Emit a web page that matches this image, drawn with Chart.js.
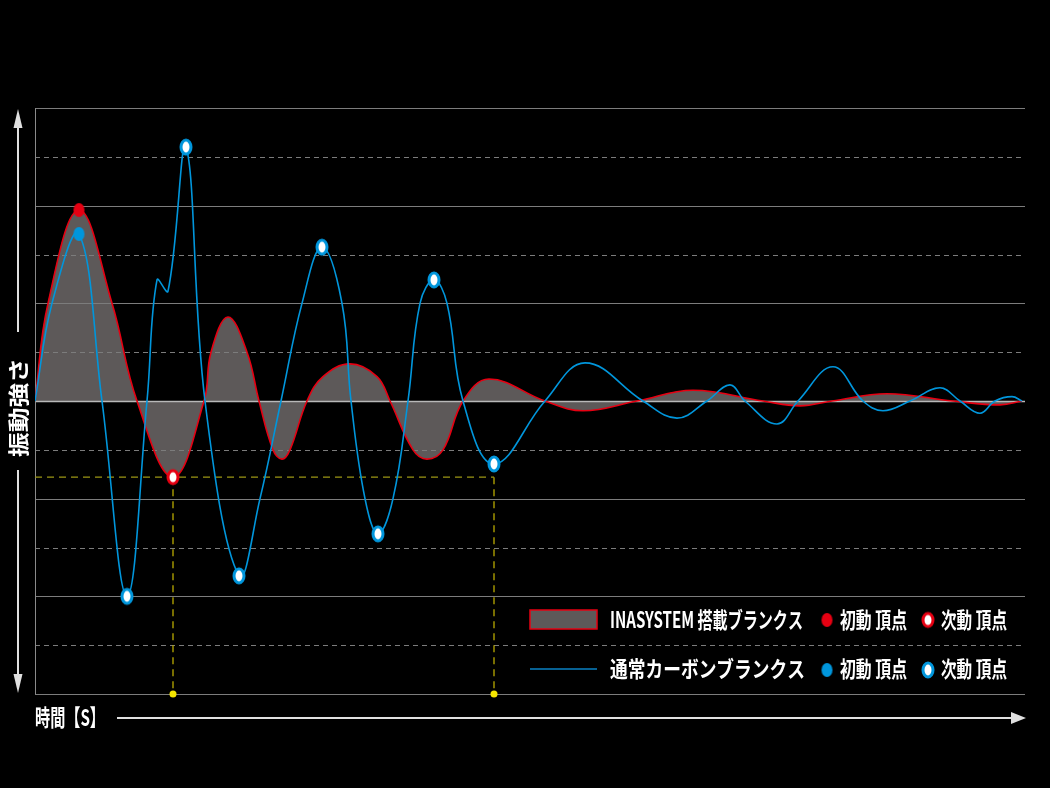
<!DOCTYPE html>
<html><head><meta charset="utf-8">
<script src="https://cdn.jsdelivr.net/npm/chart.js@4.4.1/dist/chart.umd.min.js"></script>
<style>html,body{margin:0;padding:0;background:#000;overflow:hidden}#wrap{width:1050px;height:788px;position:relative}</style>
</head><body><div id="wrap"><canvas id="c"></canvas></div>
<script>
// ---- data (time in s, amplitude in grid units) ----
const redX = [0, 0.13, 0.44, 0.77, 1.02, 1.38, 1.69, 1.76, 1.93, 2.12, 2.24, 2.38, 2.47, 2.55, 2.72, 2.88, 3.15, 3.42, 3.55, 3.78, 3.92, 4.08, 4.28, 4.54, 5.10, 5.48, 6.02, 6.58, 7.28, 7.65, 7.97, 8.52, 9.18, 9.65, 9.87];
const redY = [0, 2.0, 3.91, 2.0, 0, -1.56, 0, 1.0, 1.72, 1.0, 0, -1.0, -1.19, -1.0, 0, 0.5, 0.76, 0.5, 0, -1.0, -1.19, -1.0, 0, 0.45, 0, -0.20, 0, 0.22, 0, -0.10, 0, 0.15, 0, -0.08, 0];
const blueX = [0, 0.17, 0.44, 0.67, 0.92, 1.12, 1.22, 1.33, 1.51, 1.70, 2.04, 2.25, 2.46, 2.67, 2.87, 3.07, 3.16, 3.30, 3.43, 3.58, 3.73, 3.85, 3.99, 4.12, 4.28, 4.59, 5.10, 5.50, 6.08, 6.42, 6.72, 6.95, 7.10, 7.42, 7.63, 7.98, 8.28, 8.48, 8.75, 9.05, 9.25, 9.45, 9.60, 9.77, 9.87];
const blueY = [0, 2.0, 3.42, 0, -4.00, 0, 2.48, 2.25, 5.20, 0, -3.58, -2.0, 0, 2.0, 3.15, 2.0, 0, -2.0, -2.72, -2.0, 0, 2.0, 2.48, 2.0, 0, -1.29, 0, 0.78, 0, -0.35, 0, 0.33, 0, -0.47, 0, 0.70, 0, -0.20, 0, 0.27, 0, -0.25, 0, 0.09, 0];
const redFirstPeak = {x: 0.44, y: 3.91};
const redSecondPeak = {x: 1.38, y: -1.56};
const blueFirstPeak = {x: 0.44, y: 3.42};
const blueSecondX = [0.92, 1.51, 2.04, 2.87, 3.43, 3.99, 4.59];
const blueSecondY = [-4.00, 5.20, -3.58, 3.15, -2.72, 2.48, -1.29];
const guideLevel = -1.56;
const guideX = [1.38, 4.59];
const yGridValues = [-6,-5,-4,-3,-2,-1,0,1,2,3,4,5,6];
const xMin = 0, xMax = 9.9, yMin = -6, yMax = 6;
const yAxisTitle = '振動強さ';
const xAxisTitle = '時間【S】';
const seriesLabels = ['INASYSTEM 搭載ブランクス', '通常カーボンブランクス'];
const peakLabels = ['初動 頂点', '次動 頂点'];

const RED = '#e60012', BLUE = '#0096dc', FILLGRAY = '#5d5959';
const FONT = '"Noto Sans CJK JP","Noto Sans",sans-serif';

function ell(w, h, fill, stroke, lw) {
  const p = Math.ceil(lw || 0) + 1;
  const c = document.createElement('canvas');
  c.width = w + 2 * p; c.height = h + 2 * p;
  const g = c.getContext('2d');
  g.beginPath(); g.ellipse(c.width / 2, c.height / 2, w / 2, h / 2, 0, 0, Math.PI * 2);
  g.fillStyle = fill; g.fill();
  if (stroke) { g.lineWidth = lw; g.strokeStyle = stroke; g.stroke(); }
  return c;
}
const mRedFill = ell(11, 14, RED);
const mRedHollow = ell(10, 13, '#fff', RED, 3);
const mBlueFill = ell(11, 14, BLUE);
const mBlueHollow = ell(10, 14, '#fff', BLUE, 3);

const pts = (xs, ys) => xs.map((x, i) => ({x, y: ys[i]}));

function drawText(ctx, text, x, y, size, targetW, color) {
  ctx.save();
  ctx.font = 'bold ' + size + 'px ' + FONT;
  ctx.textBaseline = 'middle'; ctx.textAlign = 'left';
  ctx.fillStyle = color || '#fff';
  const w = ctx.measureText(text).width;
  ctx.translate(x, y);
  ctx.scale(targetW / w, 1);
  ctx.fillText(text, 0, 0);
  ctx.restore();
}

const gridPlugin = {
  id: 'gridPlugin',
  beforeDatasetsDraw(chart) {
    const {ctx, chartArea: a, scales: {y}} = chart;
    ctx.save();
    yGridValues.forEach(v => {
      const py = Math.round(y.getPixelForValue(v)) + 0.5;
      ctx.beginPath();
      if (Math.abs(v) % 2 === 1) { ctx.setLineDash([5, 4]); ctx.strokeStyle = '#7c7c7c'; ctx.lineWidth = 1; }
      else { ctx.setLineDash([]); ctx.strokeStyle = v === 0 ? '#b8b8b8' : '#7c7c7c'; ctx.lineWidth = v === 0 ? 1.5 : 1; }
      ctx.moveTo(a.left, py); ctx.lineTo(a.right, py); ctx.stroke();
    });
    ctx.setLineDash([]);
    ctx.strokeStyle = '#8a8a8a'; ctx.lineWidth = 1;
    ctx.beginPath(); ctx.moveTo(a.left + 0.5, a.top); ctx.lineTo(a.left + 0.5, a.bottom + 0.5); ctx.stroke();
    ctx.restore();
  }
};

const decoPlugin = {
  id: 'decoPlugin',
  afterDraw(chart) {
    const {ctx, chartArea: a} = chart;
    ctx.save();
    ctx.strokeStyle = '#e0e0e0'; ctx.fillStyle = '#e0e0e0'; ctx.lineWidth = 2;
    const ax = 18;
    ctx.beginPath(); ctx.moveTo(ax, 125); ctx.lineTo(ax, 332); ctx.stroke();
    ctx.beginPath(); ctx.moveTo(ax, a.top + 1); ctx.lineTo(ax - 4.5, 128); ctx.lineTo(ax + 4.5, 128); ctx.closePath(); ctx.fill();
    ctx.beginPath(); ctx.moveTo(ax, 470); ctx.lineTo(ax, 676); ctx.stroke();
    ctx.beginPath(); ctx.moveTo(ax, a.bottom - 1); ctx.lineTo(ax - 4.5, 674); ctx.lineTo(ax + 4.5, 674); ctx.closePath(); ctx.fill();
    ctx.beginPath(); ctx.moveTo(117, 718); ctx.lineTo(1014, 718); ctx.stroke();
    ctx.beginPath(); ctx.moveTo(1026, 718); ctx.lineTo(1011, 712); ctx.lineTo(1011, 724); ctx.closePath(); ctx.fill();
    ctx.save();
    ctx.translate(18, 457); ctx.rotate(-Math.PI / 2);
    drawText(ctx, yAxisTitle, 0, 0, 21, 99);
    ctx.restore();
    drawText(ctx, xAxisTitle, 35, 717, 23, 70);
    const r1 = 620, r2 = 669;
    ctx.fillStyle = FILLGRAY; ctx.fillRect(530, 610, 67, 19);
    ctx.strokeStyle = RED; ctx.lineWidth = 1.5; ctx.strokeRect(530, 610, 67, 19);
    ctx.strokeStyle = '#0a82c4'; ctx.lineWidth = 1.5;
    ctx.beginPath(); ctx.moveTo(530, r2); ctx.lineTo(597, r2); ctx.stroke();
    drawText(ctx, seriesLabels[0], 610, r1, 22, 193);
    drawText(ctx, seriesLabels[1], 610, r2, 22, 195);
    const dm = (m, x, y) => ctx.drawImage(m, x - m.width / 2, y - m.height / 2);
    dm(mRedFill, 827, r1); dm(mRedHollow, 928, r1);
    dm(mBlueFill, 827, r2 + 1); dm(mBlueHollow, 928, r2 + 1);
    [r1, r2].forEach(r => {
      drawText(ctx, peakLabels[0], 840, r, 22, 67);
      drawText(ctx, peakLabels[1], 941, r, 22, 66);
    });
    ctx.restore();
  }
};

new Chart(document.getElementById('c'), {
  type: 'line',
  data: {
    datasets: [
      { label: 'redFirst', data: [redFirstPeak], showLine: false, pointStyle: mRedFill, pointRadius: 7, order: 0 },
      { label: 'redSecond', data: [redSecondPeak], showLine: false, pointStyle: mRedHollow, pointRadius: 7, order: 0 },
      { label: 'blueFirst', data: [blueFirstPeak], showLine: false, pointStyle: mBlueFill, pointRadius: 7, order: 0 },
      { label: 'blueSecond', data: pts(blueSecondX, blueSecondY), showLine: false, pointStyle: mBlueHollow, pointRadius: 7, order: 0 },
      { label: 'guideDots', data: guideX.map(x => ({x, y: yMin})), showLine: false, pointStyle: 'circle', pointRadius: 3.5, pointBackgroundColor: '#f5e600', pointBorderWidth: 0, clip: false, order: 0 },
      { label: seriesLabels[1], data: pts(blueX, blueY), borderColor: BLUE, borderWidth: 1.6, pointRadius: 0, tension: 0.4, fill: false, order: 1 },
      { label: seriesLabels[0], data: pts(redX, redY), borderColor: RED, borderWidth: 1.6, backgroundColor: FILLGRAY, pointRadius: 0, tension: 0.4, fill: 'origin', order: 2 },
      { label: 'guideH', data: [{x: xMin, y: guideLevel}, {x: guideX[1], y: guideLevel}], borderColor: '#9c9614', borderWidth: 1.2, borderDash: [7, 5], pointRadius: 0, fill: false, order: 3 },
      { label: 'guideV1', data: [{x: guideX[0], y: guideLevel}, {x: guideX[0], y: yMin}], borderColor: '#c9b800', borderWidth: 1.2, borderDash: [7, 5], pointRadius: 0, fill: false, order: 3 },
      { label: 'guideV2', data: [{x: guideX[1], y: guideLevel}, {x: guideX[1], y: yMin}], borderColor: '#c9b800', borderWidth: 1.2, borderDash: [7, 5], pointRadius: 0, fill: false, order: 3 }
    ]
  },
  options: {
    responsive: true, maintainAspectRatio: false, animation: false,
    layout: { padding: { left: 35, right: 25, top: 108, bottom: 94 } },
    scales: {
      x: { type: 'linear', min: xMin, max: xMax, display: false },
      y: { type: 'linear', min: yMin, max: yMax, display: false }
    },
    plugins: { legend: { display: false }, tooltip: { enabled: false }, filler: { drawTime: 'beforeDraw' } },
    events: []
  },
  plugins: [gridPlugin, decoPlugin]
});
</script></body></html>
